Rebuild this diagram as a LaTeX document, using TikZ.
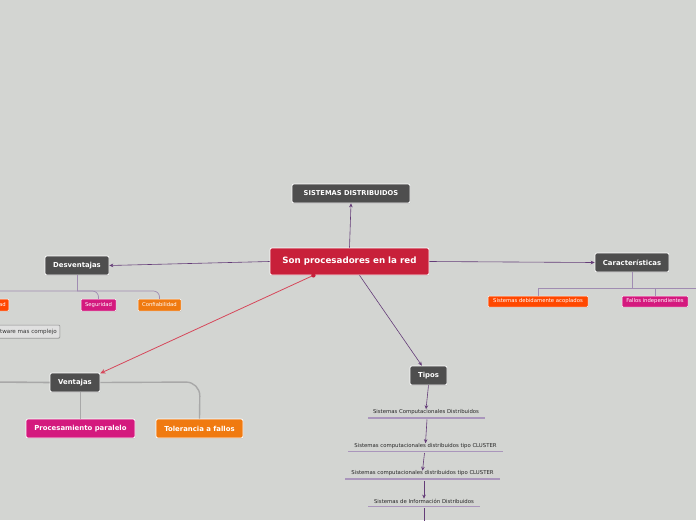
\documentclass[tikz,border=0pt]{standalone}
\usepackage{fontspec}
\setmainfont{DejaVu Sans}
\usetikzlibrary{arrows.meta,shadows}
\definecolor{bg}{RGB}{211,213,210}
\definecolor{darkbox}{RGB}{78,78,78}
\definecolor{mainred}{RGB}{200,32,58}
\definecolor{conn}{RGB}{100,60,120}
\definecolor{treeline}{RGB}{160,140,178}
\definecolor{redline}{RGB}{214,71,90}
\definecolor{orred}{RGB}{255,72,0}
\definecolor{magent}{RGB}{212,25,126}
\definecolor{orng}{RGB}{240,122,16}
\definecolor{grayline}{RGB}{168,168,168}
\definecolor{ulin}{RGB}{170,150,188}
\tikzset{
  box/.style={draw=white, line width=0.7pt, rounded corners=2pt, inner sep=0pt, text=white,
    drop shadow={shadow xshift=0.4pt, shadow yshift=-0.8pt, opacity=0.25}},
  darkn/.style={box, fill=darkbox, font=\bfseries\fontsize{6.9}{8}\selectfont},
  mainn/.style={box, fill=mainred, font=\bfseries\fontsize{8.7}{10}\selectfont},
  smalln/.style={box, line width=0.5pt, rounded corners=1pt, font=\fontsize{5.3}{6}\selectfont},
  bign/.style={box, font=\bfseries\fontsize{6.9}{8}\selectfont},
  chaintext/.style={inner sep=0pt, font=\fontsize{5.35}{6}\selectfont, text=black!85},
  ul/.style={draw=ulin, line width=1.1pt},
  link/.style={draw=conn, line width=0.6pt, -{Stealth[length=4pt,width=3.6pt]}},
  tree/.style={draw=treeline, line width=0.7pt},
}
\begin{document}
\begin{tikzpicture}[x=1pt,y=-1pt]
\useasboundingbox (0,0) rectangle (696,520);
\clip (0,0) rectangle (696,520);
\fill[bg] (0,0) rectangle (696,520);

% main nodes
\node[mainn, minimum width=159pt, minimum height=27pt] (center) at (349.5,261.5) {Son procesadores en la red};
\node[darkn, minimum width=118pt, minimum height=19pt, font=\bfseries\fontsize{6.7}{8}\selectfont] (sist) at (351,193.5) {SISTEMAS DISTRIBUIDOS};
\node[darkn, minimum width=64pt, minimum height=19pt] (desv) at (77,265.5) {Desventajas};
\node[darkn, minimum width=74pt, minimum height=19pt] (car) at (632,262.5) {Características};
\node[darkn, minimum width=50pt, minimum height=19pt] (vent) at (75,382.5) {Ventajas};
\node[darkn, minimum width=37pt, minimum height=19pt] (tipos) at (428.5,375.5) {Tipos};

% desventajas children
\node[smalln, fill=orred, minimum height=12pt, anchor=east, inner xsep=3pt] (esc) at (9,305) {Escalabilidad};
\node[smalln, fill=magent, minimum width=35pt, minimum height=12pt] (seg) at (98.5,305) {Seguridad};
\node[smalln, fill=orng, minimum width=43pt, minimum height=12pt] (conf) at (159.5,305) {Confiabilidad};
\node[smalln, fill=black!12, draw=black!45, text=black!80, minimum height=13pt, anchor=east, inner xsep=3pt, font=\fontsize{5.6}{6}\selectfont] (soft) at (60,331.5) {Software mas complejo};

% caracteristicas children
\node[smalln, fill=orred, minimum width=100pt, minimum height=11pt] (sda) at (538,301.5) {Sistemas debidamente acoplados};
\node[smalln, fill=magent, minimum width=66pt, minimum height=11pt] (fi) at (655,301.5) {Fallos independientes};
\coordinate (carright) at (700,288);

% ventajas children
\node[bign, fill=magent, minimum width=109pt, minimum height=19pt] (proc) at (80.5,428.5) {Procesamiento paralelo};
\node[bign, fill=orng, minimum width=87pt, minimum height=19pt] (tol) at (199.5,428.5) {Tolerancia a fallos};
\coordinate (ventleft) at (-5,382);

% tipos chain
\node[chaintext] (t1) at (426,412) {Sistemas Computacionales Distribuidos};
\node[chaintext] (t2) at (425.5,446) {Sistemas computacionales distribuidos tipo CLUSTER};
\node[chaintext] (t3) at (422.5,473.5) {Sistemas computacionales distribuidos tipo CLUSTER};
\node[chaintext] (t4) at (424,501) {Sistemas de Información Distribuidos};
\draw[ul] (368,418) -- (485,418);
\draw[ul] (348,451.5) -- (503,451.5);
\draw[ul] (345,479) -- (500,479);
\draw[ul] (368,506.5) -- (480,506.5);
\coordinate (u1) at (427,419.5);
\coordinate (u2) at (424.5,453);
\coordinate (u3) at (424,480.5);
\coordinate (u4) at (424,508);
\coordinate (tend) at (424,525);

% connectors from center
\draw[link] (center.north) -- (sist.south);
\draw[link] (center.west) -- (desv.east);
\draw[link] (center.east) -- (car.west);
\draw[link] (center.-54) -- (tipos.124);
\draw[draw=redline, line width=0.8pt, -{Stealth[length=5pt,width=4.5pt]}] (center.201) -- (vent.20);
\fill[mainred] (center.201) circle (2.2pt);

% desventajas tree
\draw[tree] (desv.south) -- (77,291);
\draw[tree, rounded corners=6pt] (77,291) -| (seg.north);
\draw[tree, rounded corners=6pt] (77,291) -| (conf.north);
\draw[tree, rounded corners=6pt] (77,291) -| (esc.north);

% caracteristicas tree
\draw[tree] (car.south) -- (632,288);
\draw[tree] (632,288) -| (sda.north);
\draw[tree] (632,288) -| (fi.north);
\draw[tree] (632,288) -- (carright);

% ventajas tree
\draw[draw=grayline, line width=1.6pt] (ventleft) -- (vent.west);
\draw[draw=grayline, line width=1.4pt, rounded corners=14pt] (vent.east) -- (200,382) -- (tol.north);
\draw[draw=grayline, line width=0.7pt] (80,392) -- (proc.north -| 80,0);

% tipos chain arrows
\draw[link] (tipos.south) -- (t1.north);
\draw[link] (u1) -- (t2.north);
\draw[link] (u2) -- (t3.north);
\draw[link] (u3) -- (t4.north);
\draw[draw=conn, line width=0.6pt] (u4) -- (tend);
\end{tikzpicture}
\end{document}
